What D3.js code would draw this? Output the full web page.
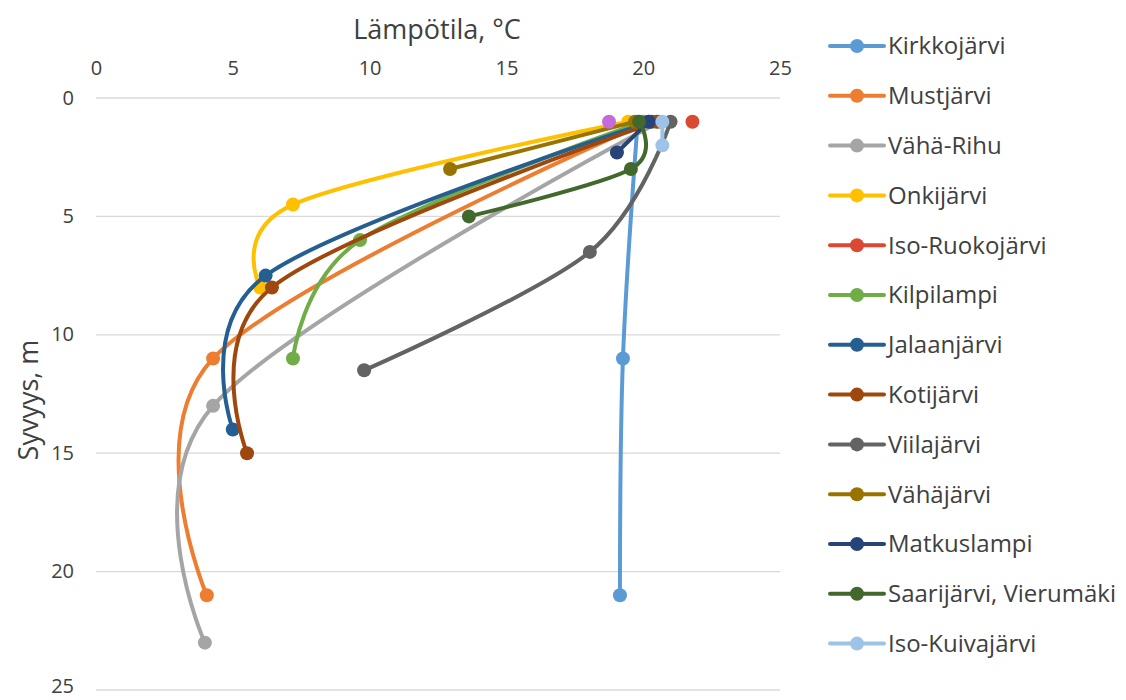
<!DOCTYPE html>
<html>
<head>
<meta charset="utf-8">
<script src="https://cdn.jsdelivr.net/npm/d3@7"></script>
<style>
  body { margin: 0; background: #fff; }
  text { font-family: "Open Sans", "Liberation Sans", sans-serif; fill: #404040; }
</style>
</head>
<body>
<svg id="chart" width="1126" height="700"></svg>
<script>
// Data: lake temperature profiles (temperature °C, depth m)
const lakeNames = ["Kirkkojärvi", "Mustjärvi", "Vähä-Rihu", "Onkijärvi", "Iso-Ruokojärvi",
  "Kilpilampi", "Jalaanjärvi", "Kotijärvi", "Viilajärvi", "Vähäjärvi", "Matkuslampi",
  "Saarijärvi, Vierumäki", "Iso-Kuivajärvi", ""];
const lakeColors = ["#5B9BD5", "#ED7D31", "#A5A5A5", "#FFC000", "#DA4A33",
  "#70AD47", "#255E91", "#9E480E", "#636363", "#997300", "#264478",
  "#43682B", "#9DC3E6", "#C46ADB"];

const kirkkoTemp = [19.8, 19.26, 19.15],   kirkkoDepth = [1, 11, 21];
const mustTemp = [20.2, 4.28, 4.05],       mustDepth = [1, 11, 21];
const rihuTemp = [20.6, 4.28, 3.98],       rihuDepth = [1, 13, 23];
const onkiTemp = [19.45, 7.2, 6.0],        onkiDepth = [1, 4.5, 8];
const ruokoTemp = [21.8],                  ruokoDepth = [1];
const kilpiTemp = [20.0, 9.65, 7.2],       kilpiDepth = [1, 6, 11];
const jalaanTemp = [20.3, 6.2, 5.0],       jalaanDepth = [1, 7.5, 14];
const kotiTemp = [20.5, 6.43, 5.52],       kotiDepth = [1, 8, 15];
const viilaTemp = [21.0, 18.05, 9.8],      viilaDepth = [1, 6.5, 11.5];
const vahaTemp = [19.7, 12.94],            vahaDepth = [1, 3];
const matkusTemp = [20.2, 19.04],          matkusDepth = [1, 2.3];
const saariTemp = [19.85, 19.55, 13.63],   saariDepth = [1, 3, 5];
const kuivaTemp = [20.7, 20.7],            kuivaDepth = [1, 2];
const extraTemp = [18.75],                 extraDepth = [1];

const tempSets = [kirkkoTemp, mustTemp, rihuTemp, onkiTemp, ruokoTemp, kilpiTemp, jalaanTemp,
  kotiTemp, viilaTemp, vahaTemp, matkusTemp, saariTemp, kuivaTemp, extraTemp];
const depthSets = [kirkkoDepth, mustDepth, rihuDepth, onkiDepth, ruokoDepth, kilpiDepth, jalaanDepth,
  kotiDepth, viilaDepth, vahaDepth, matkusDepth, saariDepth, kuivaDepth, extraDepth];

const tickValues = [0, 5, 10, 15, 20, 25];

const series = lakeNames.map((name, i) => ({
  name,
  color: lakeColors[i],
  points: tempSets[i].map((t, j) => ({ t, d: depthSets[i][j] }))
}));

// Scales
const svg = d3.select("#chart");
const x = d3.scaleLinear().domain([0, 25]).range([96, 780]);
const y = d3.scaleLinear().domain([0, 25]).range([98, 690]);

// Gridlines
svg.append("g").selectAll("line")
  .data(tickValues)
  .join("line")
    .attr("x1", x(0)).attr("x2", x(25))
    .attr("y1", d => y(d)).attr("y2", d => y(d))
    .attr("stroke", "#D9D9D9").attr("stroke-width", 1.3);

// Axes (labels only, Excel style)
const xAxis = svg.append("g").attr("transform", "translate(0,60)")
  .call(d3.axisTop(x).tickValues(tickValues).tickSize(0).tickPadding(0));
xAxis.select(".domain").remove();
xAxis.selectAll("text").attr("font-size", 20).attr("fill", "#404040")
  .attr("font-family", "Open Sans, sans-serif").attr("dy", "0.35em").attr("y", 8);

const yAxis = svg.append("g").attr("transform", "translate(74,0)")
  .call(d3.axisLeft(y).tickValues(tickValues).tickSize(0).tickPadding(0));
yAxis.select(".domain").remove();
yAxis.selectAll("text").attr("font-size", 20).attr("fill", "#404040")
  .attr("font-family", "Open Sans, sans-serif")
  .attr("dy", d => d === 25 ? "0.1em" : "0.3em");

// Axis titles
svg.append("text")
  .attr("x", 437).attr("y", 39)
  .attr("text-anchor", "middle")
  .attr("font-size", 27)
  .text("Lämpötila, °C");

svg.append("text")
  .attr("transform", "translate(38,400) rotate(-90)")
  .attr("text-anchor", "middle")
  .attr("font-size", 27)
  .text("Syvyys, m");

// Lines and markers
const line = d3.line()
  .x(p => x(p.t))
  .y(p => y(p.d))
  .curve(d3.curveCardinal.tension(0));

const groups = svg.append("g").selectAll("g")
  .data(series)
  .join("g");

groups.filter(s => s.points.length > 1)
  .append("path")
    .attr("d", s => line(s.points))
    .attr("fill", "none")
    .attr("stroke", s => s.color)
    .attr("stroke-width", 4)
    .attr("stroke-linecap", "round");

groups.selectAll("circle")
  .data(s => s.points.map(p => ({ ...p, color: s.color })))
  .join("circle")
    .attr("cx", p => x(p.t))
    .attr("cy", p => y(p.d))
    .attr("r", 7)
    .attr("fill", p => p.color);

// Legend
const legend = svg.append("g").selectAll("g")
  .data(series.filter(s => s.name !== ""))
  .join("g")
    .attr("transform", (s, i) => `translate(830,${46 + i * 49.8})`);

legend.append("line")
  .attr("x1", 0).attr("x2", 54)
  .attr("stroke", s => s.color)
  .attr("stroke-width", 4)
  .attr("stroke-linecap", "round");

legend.append("circle")
  .attr("cx", 27).attr("r", 7)
  .attr("fill", s => s.color);

legend.append("text")
  .attr("x", 58)
  .attr("dy", "0.35em")
  .attr("font-size", 24)
  .text(s => s.name);
</script>
</body>
</html>
